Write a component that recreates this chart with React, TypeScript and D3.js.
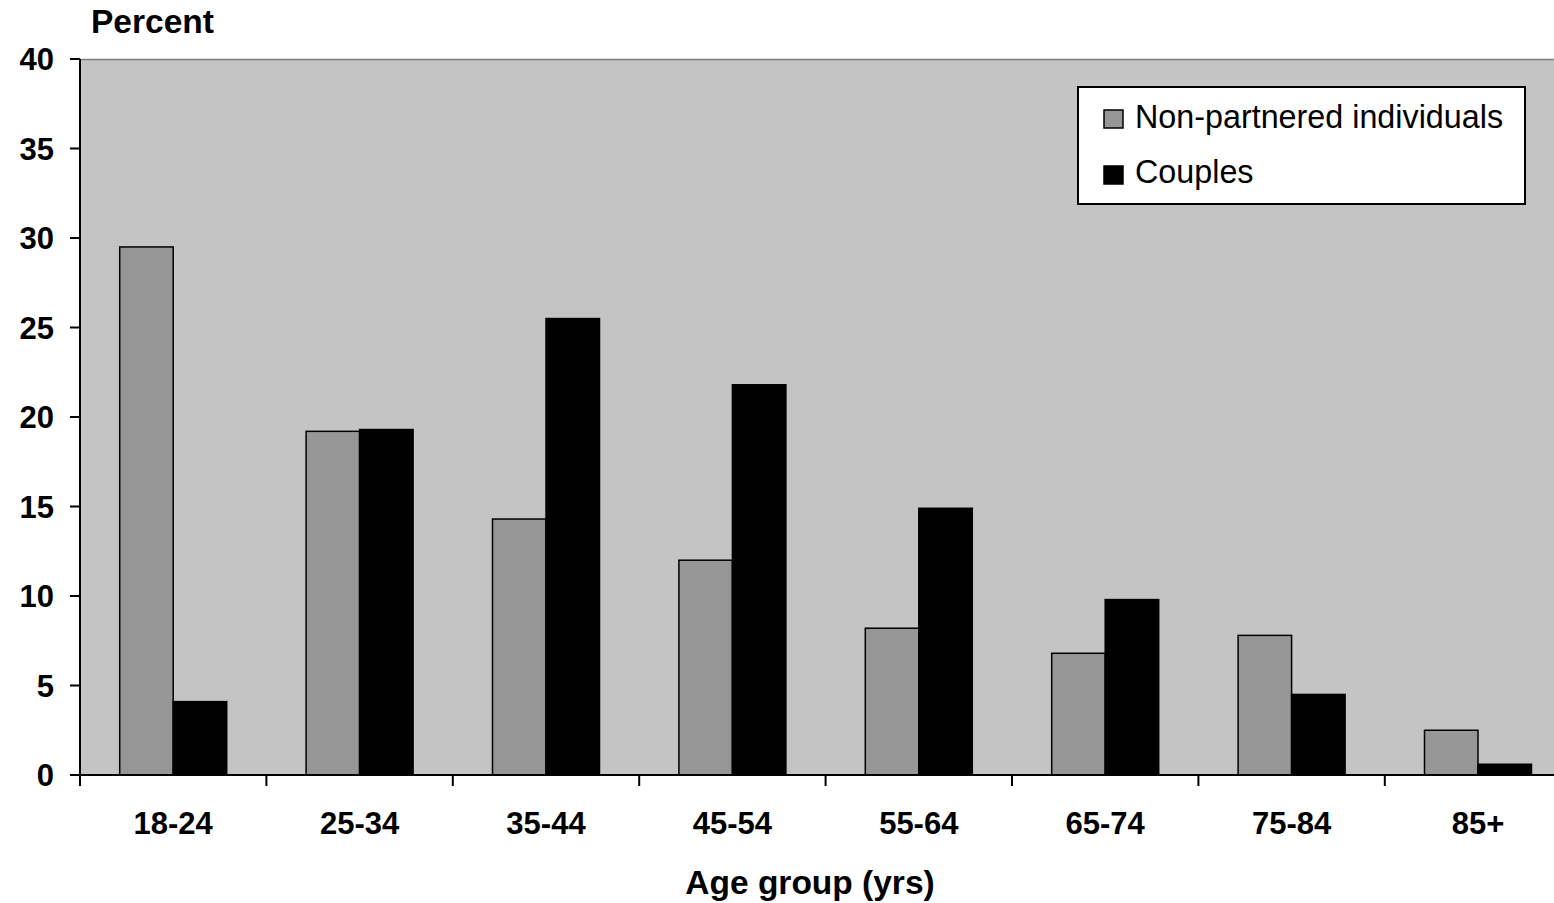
import React from "react";
import * as d3 from "d3";

const categories = ["18-24", "25-34", "35-44", "45-54", "55-64", "65-74", "75-84", "85+"];
const nonPartnered = [29.5, 19.2, 14.3, 12.0, 8.2, 6.8, 7.8, 2.5];
const couples = [4.1, 19.3, 25.5, 21.8, 14.9, 9.8, 4.5, 0.6];
const seriesNames = ["Non-partnered individuals", "Couples"];
const yTicks = [0, 5, 10, 15, 20, 25, 30, 35, 40];

const W = 1554, H = 903;
const left = 80, top = 59, bottom = 775;
const catW = 186.4;
const right = left + catW * categories.length;

export default function App() {
  const x = d3.scaleBand<string>().domain(categories).range([left, right]).paddingInner(0).paddingOuter(0);
  const y = d3.scaleLinear().domain([0, 40]).range([bottom, top]);
  const groupW = 107;
  const sub = d3.scaleBand<number>().domain([0, 1]).range([0, groupW]);
  const colors = ["#969696", "#000000"];
  const data = [nonPartnered, couples];
  const font = "Liberation Sans, Arial, sans-serif";

  return (
    <svg width={W} height={H} style={{ position: "absolute", left: 0, top: 0, background: "#fff" }} fontFamily={font}>
      <rect x={left} y={top} width={right - left} height={bottom - top} fill="#c4c4c4" />
      <line x1={left} x2={right} y1={top + 0.5} y2={top + 0.5} stroke="#808080" strokeWidth={1.5} />
      {data.map((vals, si) =>
        vals.map((v, i) => {
          const cx = (x(categories[i]) as number) + x.bandwidth() / 2 - groupW / 2;
          return (
            <rect
              key={si + "-" + i}
              x={cx + (sub(si) as number)}
              y={y(v)}
              width={sub.bandwidth()}
              height={bottom - y(v)}
              fill={colors[si]}
              stroke="#000"
              strokeWidth={1.5}
            />
          );
        })
      )}
      <line x1={left} x2={left} y1={top} y2={bottom} stroke="#000" strokeWidth={2} />
      <line x1={left} x2={right} y1={bottom} y2={bottom} stroke="#000" strokeWidth={2} />
      {yTicks.map((t) => (
        <g key={t}>
          <line x1={left - 10} x2={left} y1={y(t)} y2={y(t)} stroke="#000" strokeWidth={2} />
          <text x={54} y={y(t) + 11} textAnchor="end" fontSize={31} fontWeight="bold">{t}</text>
        </g>
      ))}
      {categories.map((c, i) => (
        <g key={c}>
          <line x1={left + i * catW} x2={left + i * catW} y1={bottom} y2={bottom + 11} stroke="#000" strokeWidth={2} />
          <text x={(x(c) as number) + x.bandwidth() / 2} y={834} textAnchor="middle" fontSize={31} fontWeight="bold">{c}</text>
        </g>
      ))}
      <text x={91} y={33} fontSize={33.5} fontWeight="bold">Percent</text>
      <text x={810} y={894} textAnchor="middle" fontSize={33.5} fontWeight="bold">Age group (yrs)</text>
      <rect x={1078} y={87} width={447} height={117} fill="#fff" stroke="#000" strokeWidth={2} />
      {seriesNames.map((n, i) => (
        <g key={n}>
          <rect x={1104} y={110 + i * 56} width={19} height={18} fill={colors[i]} stroke="#000" strokeWidth={1.5} />
          <text x={1135} y={128 + i * 55} fontSize={32.3}>{n}</text>
        </g>
      ))}
    </svg>
  );
}
